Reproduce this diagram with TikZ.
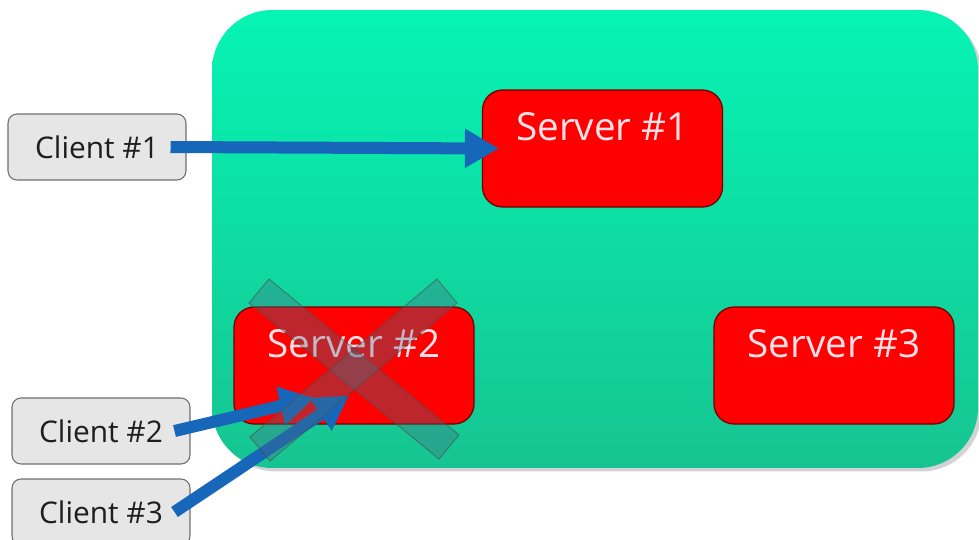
\documentclass[tikz,border=0pt]{standalone}
\usepackage{fontspec}
\setmainfont{Open Sans}
\usetikzlibrary{positioning, arrows.meta, shadows}
\definecolor{poolgreen}{RGB}{6,244,180}
\definecolor{poolgreendark}{RGB}{22,196,145}
\definecolor{serverred}{RGB}{255,0,0}
\definecolor{serveredge}{RGB}{110,0,0}
\definecolor{servertext}{RGB}{255,226,232}
\definecolor{clientgray}{RGB}{230,230,230}
\definecolor{clientedge}{RGB}{110,110,110}
\definecolor{clienttext}{RGB}{30,30,30}
\definecolor{linkblue}{RGB}{22,102,186}
\definecolor{crossteal}{RGB}{70,110,130}

\tikzset{
  pool/.style={minimum width=15.32cm, minimum height=9.16cm, rounded corners=1.2cm,
    top color=poolgreen, bottom color=poolgreendark,
    drop shadow={shadow xshift=0.07cm, shadow yshift=-0.07cm, opacity=0.35}},
  server/.style={fill=serverred, draw=serveredge, line width=0.7pt, rounded corners=0.4cm,
    minimum width=4.8cm, minimum height=2.34cm, inner sep=0pt,
    text height=1.0cm, text depth=1.34cm, text=servertext,
    font=\fontsize{22}{26}\selectfont},
  client/.style={fill=clientgray, draw=clientedge, line width=0.6pt, rounded corners=0.18cm,
    minimum width=3.56cm, minimum height=1.32cm, inner sep=0pt, text=clienttext,
    font=\fontsize{17}{20}\selectfont},
  link/.style={draw=linkblue, line width=0.24cm, -{Triangle[length=0.68cm,width=0.74cm]}},
  crossbar/.style={fill=crossteal, fill opacity=0.35, draw=black!70, draw opacity=0.6, line width=0.5pt}
}

\begin{document}
\begin{tikzpicture}[x=0.02cm, y=-0.02cm]
  \useasboundingbox (0,0) rectangle (979,539);

  % the pool
  \node[pool] (pool) at (595,239) {};

  % servers
  \node[server] (s1) at (602.5,148.5) {Server \#1};
  \node[server] (s2) at (354,365.5) {Server \#2};
  \node[server] (s3) at (834,365.5) {Server \#3};

  % clients
  \node[client] (c1) at (97,147) {Client \#1};
  \node[client] (c2) at (101,431) {Client \#2};
  \node[client] (c3) at (101,512) {Client \#3};

  % connections
  \draw[link] ([xshift=-0.32cm]c1.east) -- ([xshift=0.34cm]s1.west);
  \draw[link] ([xshift=-0.32cm]c2.east) -- ([shift={(-0.8cm,-0.65cm)}]s2.center);
  \draw[link] ([xshift=-0.32cm]c3.east) -- ([shift={(-0.1cm,-0.6cm)}]s2.center);

  % server #2 is down
  \draw[crossbar] (269,279) -- (249,303) -- (439,459) -- (459,435) -- cycle;
  \draw[crossbar] (437,279) -- (457,303) -- (270,461) -- (250,437) -- cycle;
\end{tikzpicture}
\end{document}
